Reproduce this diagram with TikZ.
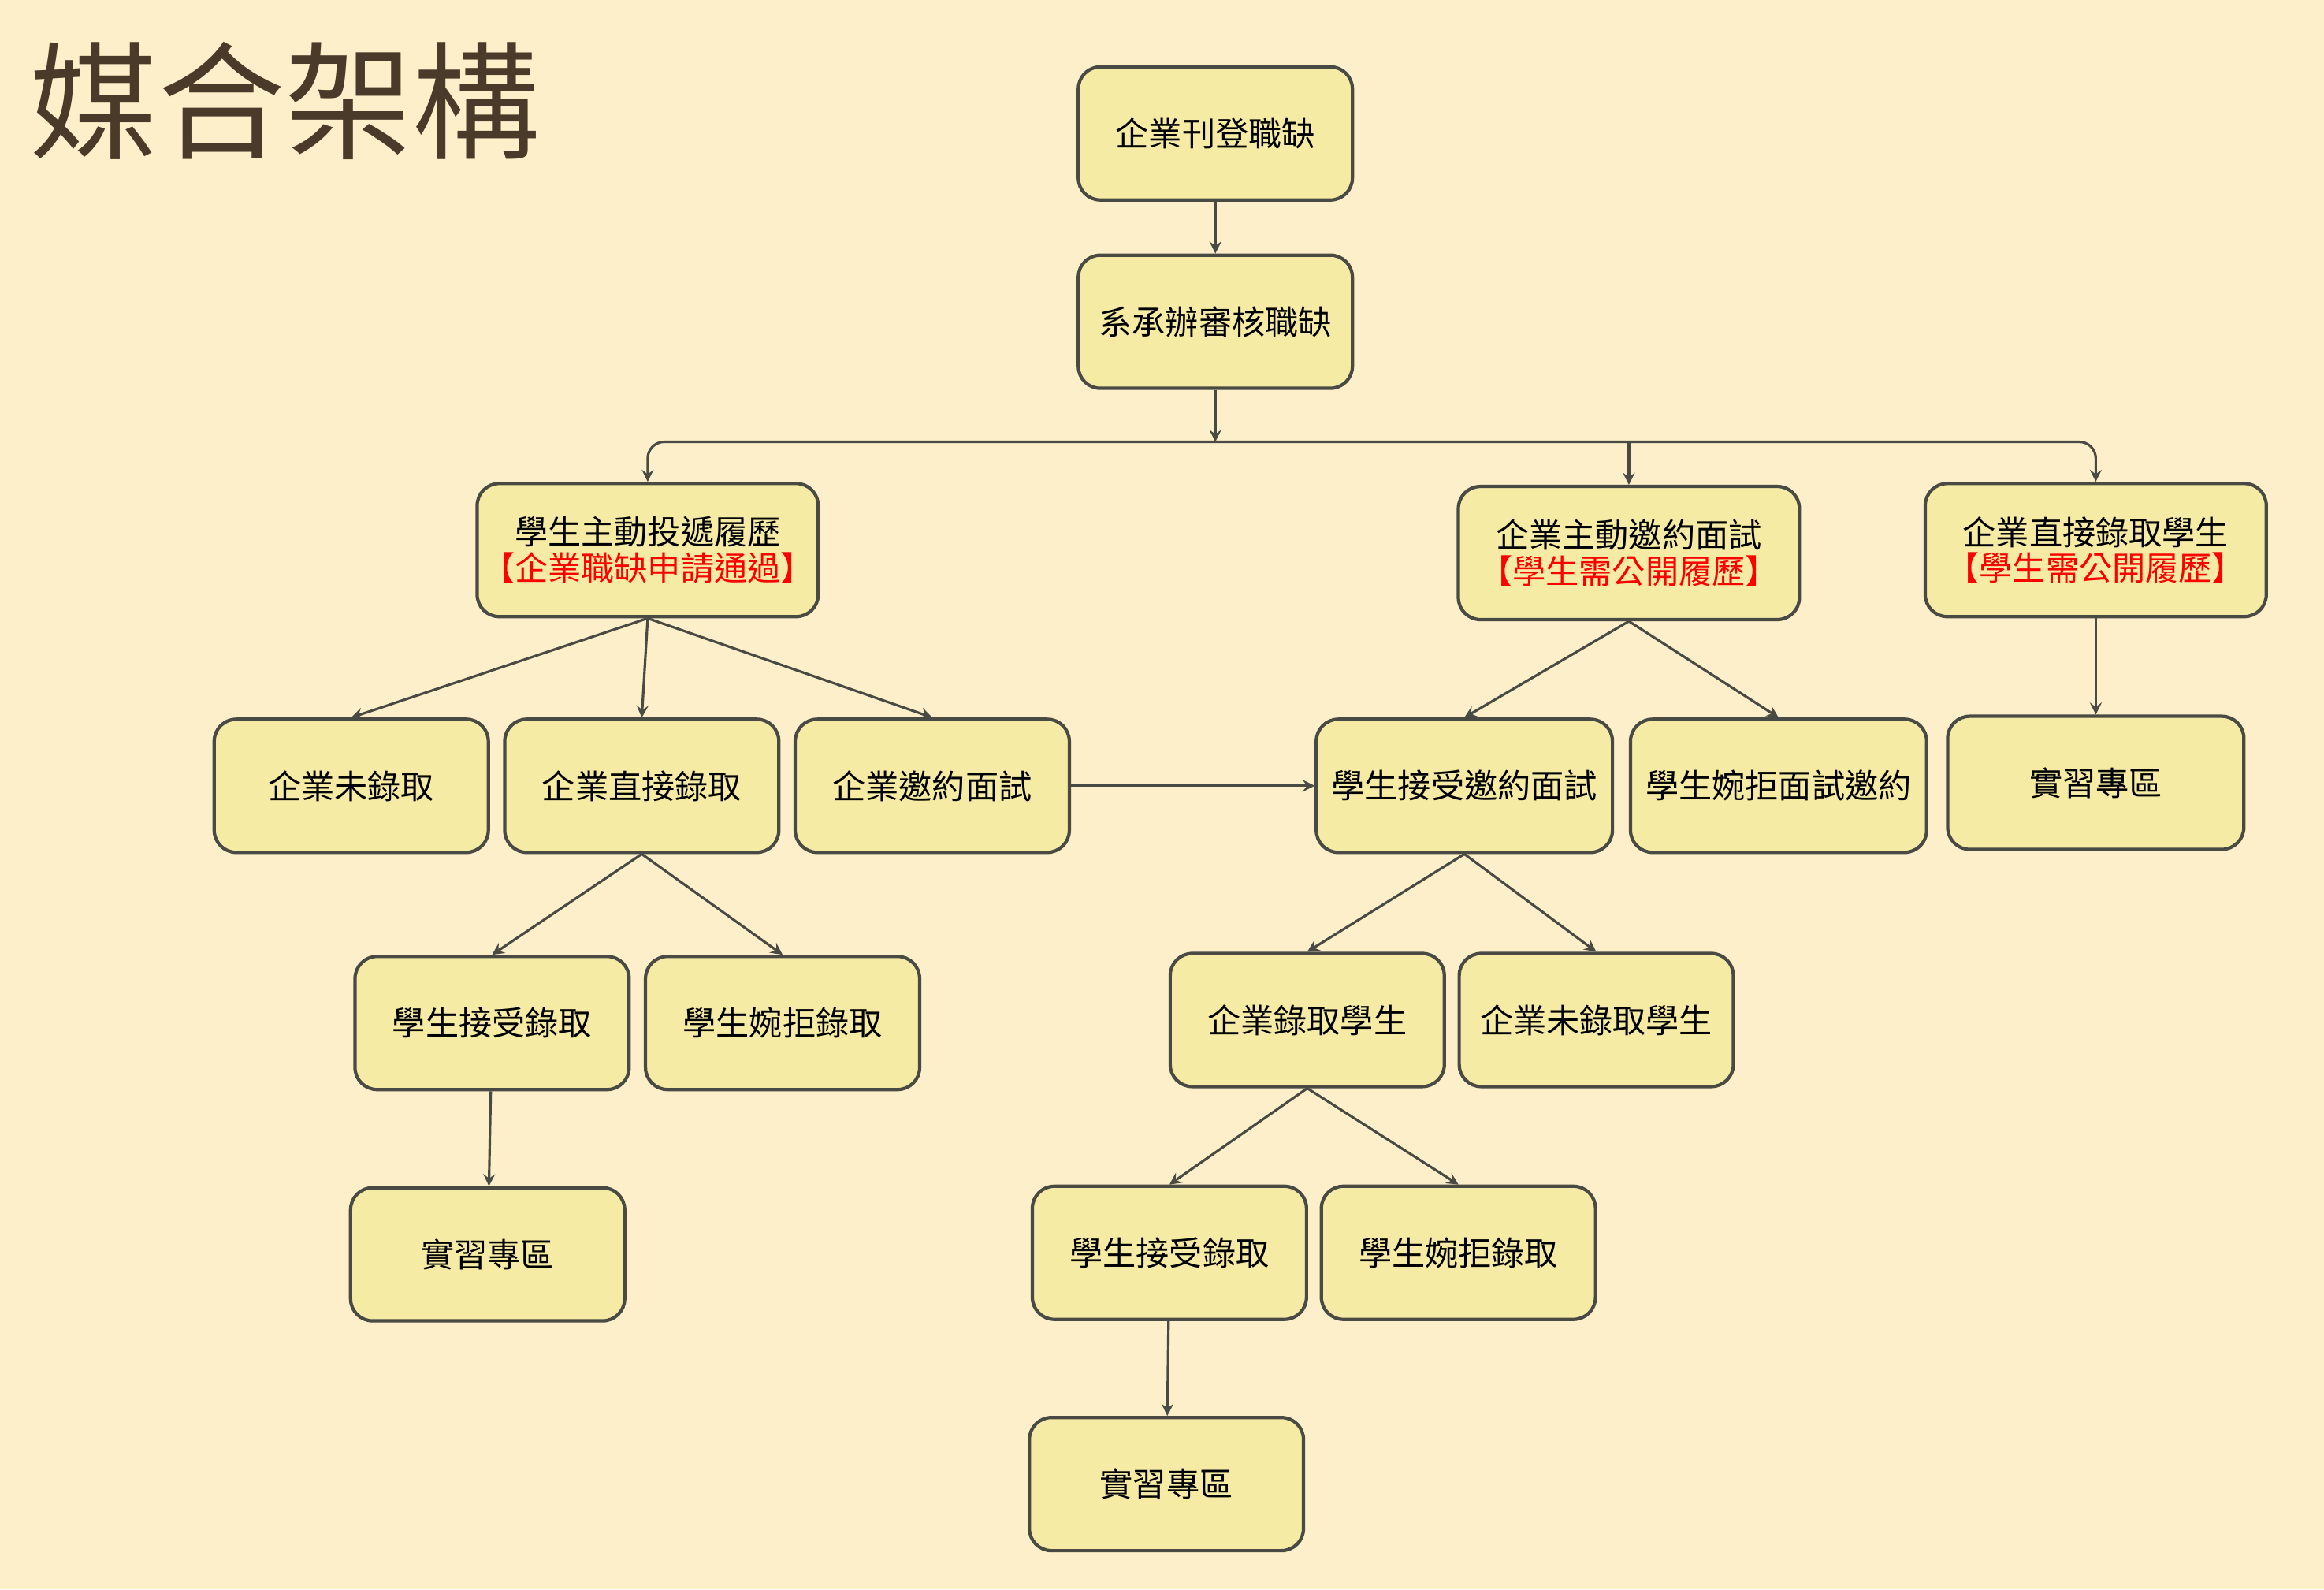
\documentclass[tikz,border=0pt]{standalone}
\usepackage{fontspec}
\setmainfont{Noto Sans CJK TC}
\usetikzlibrary{positioning}
\definecolor{bg}{HTML}{FCEFC9}
\definecolor{boxfill}{HTML}{F6EBA4}
\definecolor{boxline}{HTML}{4A4A44}
\definecolor{titlecol}{HTML}{4A3A2A}
\tikzset{
  box/.style={draw=boxline, fill=boxfill, rounded corners=8pt, line width=1.2pt,
    minimum width=3.48cm, minimum height=1.69cm, align=center, inner sep=1pt,
    font=\fontsize{12}{16}\selectfont},
  wide/.style={box, minimum width=3.76cm},
  note/.style={text=red},
  arr/.style={->, >=stealth, line width=0.9pt, draw=boxline}
}
\begin{document}
\begin{tikzpicture}[x=0.01881cm, y=-0.01881cm]
    \fill[bg] (0,0) rectangle (1568,1072);
    \useasboundingbox (0,0) rectangle (1568,1072);
    \node[anchor=west, text=titlecol, font=\fontsize{46}{50}\selectfont\addfontfeature{FakeBold=0}] (title) at (14,68) {媒合架構};
    % top
    \node[box] (post) at (820,90) {企業刊登職缺};
    \node[box] (check) at (820,217) {系承辦審核職缺};
    \coordinate (bus) at (820,298);
    % three ways
    \node[box, minimum width=4.33cm] (apply) at (437,371) {學生主動投遞履歷\\[-3pt]{\color{red}【企業職缺申請通過】}};
    \node[box, minimum width=4.33cm] (invite) at (1099,373) {企業主動邀約面試\\[-3pt]{\color{red}【學生需公開履歷】}};
    \node[box, minimum width=4.33cm] (direct) at (1414,371) {企業直接錄取學生\\[-3pt]{\color{red}【學生需公開履歷】}};
    % second row
    \node[box] (reject) at (237,530) {企業未錄取};
    \node[box] (hire) at (433,530) {企業直接錄取};
    \node[box] (ask) at (629,530) {企業邀約面試};
    \node[wide] (accinv) at (988,530) {學生接受邀約面試};
    \node[wide] (decinv) at (1200,530) {學生婉拒面試邀約};
    \node[wide] (zoneA) at (1414,528) {實習專區};
    % third row
    \node[box] (accA) at (332,690) {學生接受錄取};
    \node[box] (decA) at (528,690) {學生婉拒錄取};
    \node[box] (pass) at (882,688) {企業錄取學生};
    \node[box] (fail) at (1077,688) {企業未錄取學生};
    % fourth row
    \node[box] (zoneB) at (329,846) {實習專區};
    \node[box] (accB) at (789,845) {學生接受錄取};
    \node[box] (decB) at (984,845) {學生婉拒錄取};
    \node[box] (zoneC) at (787,1001) {實習專區};

    \draw[arr] (post) -- (check);
    \draw[arr] (check) -- (bus);
    \draw[arr, rounded corners=6pt] (bus) -| (apply.north);
    \draw[arr, rounded corners=6pt] (bus) -| (direct.north);
    \draw[arr] (bus -| invite.north) -- (invite.north);
    \draw[arr] (apply.south) -- (reject.north);
    \draw[arr] (apply.south) -- (hire.north);
    \draw[arr] (apply.south) -- (ask.north);
    \draw[arr] (ask) -- (accinv);
    \draw[arr] (invite.south) -- (accinv.north);
    \draw[arr] (invite.south) -- (decinv.north);
    \draw[arr] (direct) -- (zoneA);
    \draw[arr] (hire.south) -- (accA.north);
    \draw[arr] (hire.south) -- (decA.north);
    \draw[arr] (accinv.south) -- (pass.north);
    \draw[arr] (accinv.south) -- (fail.north);
    \draw[arr] (accA) -- (zoneB);
    \draw[arr] (pass.south) -- (accB.north);
    \draw[arr] (pass.south) -- (decB.north);
    \draw[arr] (accB) -- (zoneC);
\end{tikzpicture}
\end{document}
